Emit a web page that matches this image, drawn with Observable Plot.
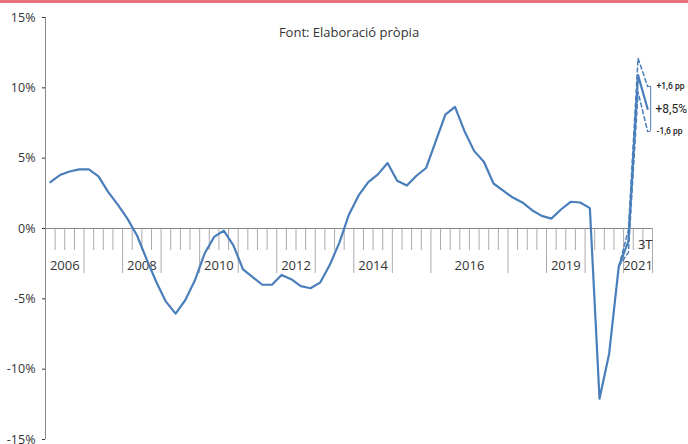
<!DOCTYPE html>
<html>
<head>
<meta charset="utf-8">
<script src="https://cdn.jsdelivr.net/npm/d3@7"></script>
<script src="https://cdn.jsdelivr.net/npm/@observablehq/plot@0.6"></script>
<style>
  body { margin: 0; background: #fff; }
  #redbar { position: absolute; left: 0; top: 0; width: 688px; height: 3px; background: #e8737b; }
  #chart { position: absolute; left: 0; top: 0; }
</style>
</head>
<body>
<div id="chart"></div>
<div id="redbar"></div>
<script>
// Quarterly values, 2006 T1 … 2021 T3 (%)
const values = [3.3,3.8,4.05,4.2,4.2,3.7,2.6,1.7,0.7,-0.5,
  -2.2,-3.8,-5.2,-6.05,-5.1,-3.7,-1.8,-0.6,-0.15,-1.2,
  -2.9,-3.45,-4.0,-4.0,-3.3,-3.6,-4.1,-4.25,-3.85,-2.6,
  -1.0,1.0,2.35,3.3,3.85,4.65,3.4,3.05,3.75,4.3,
  6.2,8.1,8.65,6.9,5.5,4.75,3.2,2.7,2.2,1.85,
  1.3,0.9,0.7,1.35,1.9,1.85,1.45,-12.1,-8.9,-2.7,
  -0.9,10.9,8.5];
// Band (forecast interval) starting at quarter index 59
const bandStart = 59;
const bandUpper = [-2.7, -0.1, 12.1, 10.1];
const bandLower = [-2.7, -1.7, 9.7, 6.9];
// Category axis groups
const groupLabels = ["2006","","2008","","2010","","2012","","2014","","2016","","2019","","2021"];
const groupSizes  = [4,4,4,4,4,4,4,4,4,4,8,4,4,4,3];
const lastQuarterLabel = "3T";
const title = "Font: Elaboració pròpia";
const annotLabels = ["+1,6 pp", "+8,5%", "-1,6 pp"];

const n = values.length;
const data = values.map((v, i) => ({i: i + 0.5, v}));
const up = bandUpper.map((v, k) => ({i: bandStart + k + 0.5, v}));
const lo = bandLower.map((v, k) => ({i: bandStart + k + 0.5, v}));

let acc = 0;
const groups = groupLabels.map((label, k) => {
  const start = acc; acc += groupSizes[k];
  return {label, start, end: acc, center: (start + acc) / 2};
});
const longTicks = groups.map(g => g.end);
const quarterTicks = d3.range(1, n).filter(q => !longTicks.includes(q));

const blue = "#4a7ebb";
const lastI = n - 0.5;
const upEnd = bandUpper[bandUpper.length - 1];
const loEnd = bandLower[bandLower.length - 1];
const midEnd = values[n - 1];
const narrow = "Roboto, sans-serif";

const chart = Plot.plot({
  width: 688, height: 444,
  marginLeft: 45, marginRight: 36, marginTop: 17, marginBottom: 5,
  style: {fontFamily: "'Open Sans', sans-serif", fontSize: "12.5px", color: "#333", background: "#fff"},
  x: {domain: [0, n], axis: null},
  y: {domain: [-15, 15], ticks: 6, tickFormat: d => d + "%", tickSize: 3, tickPadding: 7, label: null},
  marks: [
    Plot.ruleX([0], {stroke: "#888"}),
    Plot.ruleX(quarterTicks, {y1: 0, y2: 0, insetBottom: -22, stroke: "#aaa"}),
    Plot.ruleX(longTicks, {y1: 0, y2: 0, insetBottom: -45, stroke: "#aaa"}),
    Plot.ruleY([0], {stroke: "#888"}),
    Plot.text(groups.filter(g => g.label), {x: "center", y: 0, dy: 37, text: "label", fill: "#333", fontSize: 13}),
    Plot.text([lastQuarterLabel], {x: n, y: 0, dy: 16, textAnchor: "end", fill: "#333", fontSize: 13}),
    Plot.text([title], {frameAnchor: "top", dy: 10, fill: "#333", fontSize: 13}),
    Plot.line(up, {x: "i", y: "v", stroke: blue, strokeWidth: 1.5, strokeDasharray: "4,3"}),
    Plot.line(lo, {x: "i", y: "v", stroke: blue, strokeWidth: 1.5, strokeDasharray: "4,3"}),
    Plot.line(data, {x: "i", y: "v", stroke: blue, strokeWidth: 2.2}),
    Plot.ruleX([lastI], {y1: upEnd, y2: loEnd, dx: 3, stroke: blue, strokeWidth: 1}),
    Plot.ruleY([upEnd, loEnd], {x1: lastI, x2: lastI, insetRight: -3, stroke: blue, strokeWidth: 1}),
    Plot.text([upEnd], {x: n, y: d => d, dx: 4, text: () => annotLabels[0], textAnchor: "start", fontSize: 8.5, fontWeight: 500, fontFamily: narrow, fill: "#222"}),
    Plot.text([midEnd], {x: n, y: d => d, dx: 3, text: () => annotLabels[1], textAnchor: "start", fontSize: 12, fontFamily: narrow, fill: "#222"}),
    Plot.text([loEnd], {x: n, y: d => d, dx: 4, text: () => annotLabels[2], textAnchor: "start", fontSize: 8.5, fontWeight: 500, fontFamily: narrow, fill: "#222"})
  ]
});
document.getElementById("chart").appendChild(chart);
</script>
</body>
</html>
